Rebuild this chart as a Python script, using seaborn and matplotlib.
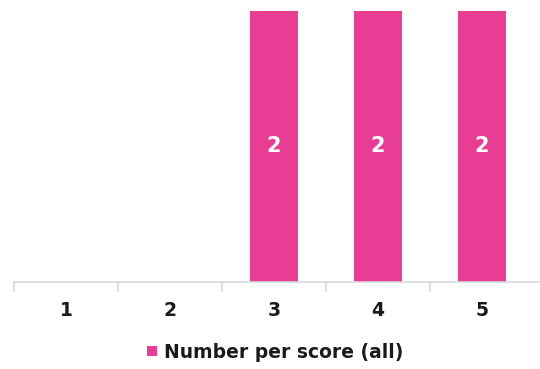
import matplotlib
matplotlib.use("Agg")
import matplotlib.pyplot as plt
import seaborn as sns
import pandas as pd
from matplotlib.patches import Patch

# Scores and how many responses landed on each
scores = ["1", "2", "3", "4", "5"]
counts = [0, 0, 2, 2, 2]
series_name = "Number per score (all)"

pink = "#E83D95"
text_color = "#1a1a1a"

sns.set_theme(style="white")
plt.rcParams["font.family"] = ["DejaVu Sans"]

df = pd.DataFrame({"score": scores, "count": counts})

W, H = 540, 369
fig = plt.figure(figsize=(W / 100, H / 100), dpi=100)
# axes spans from the left axis tick to past the right edge
left_px, right_px, base_px, top_px = 14, 540, 282, 11
ax = fig.add_axes([left_px / W, (H - base_px) / H,
                   (right_px - left_px) / W, (base_px - top_px) / H])

sns.barplot(data=df, x="score", y="count", color=pink, width=0.47,
            saturation=1, linewidth=0, edgecolor="none", ax=ax)

ax.set_ylim(0, 2)
ax.set_xlim(-0.5, 4.5 + 6 / 104)
ax.set_yticks([])
ax.set_xlabel("")
ax.set_ylabel("")
for side in ["top", "right", "left"]:
    ax.spines[side].set_visible(False)
ax.spines["bottom"].set_color("#d9d9d9")
ax.spines["bottom"].set_linewidth(1.2)

# category boundary ticks below the baseline
ax.set_xticks(range(len(scores)))
ax.set_xticklabels(scores, fontsize=13.5, fontweight="bold", color=text_color)
ax.tick_params(axis="x", which="major", length=0, pad=14)
ax.set_xticks([i - 0.5 for i in range(len(scores))], minor=True)
ax.tick_params(axis="x", which="minor", length=7, width=1.2,
               color="#d9d9d9", direction="out", bottom=True)

# value labels inside the bars
for container in ax.containers:
    labels = [f"{v:g}" if v > 0 else "" for v in container.datavalues]
    ax.bar_label(container, labels=labels, label_type="center",
                 color="white", fontsize=15, fontweight="bold")

handle = Patch(facecolor=pink, edgecolor="none")
fig.legend([handle], [series_name], loc="center", bbox_to_anchor=(0.51, (H - 352) / H),
           frameon=False, handlelength=0.5, handleheight=0.5, handletextpad=0.4,
           prop={"weight": "bold", "size": 13.5}, labelcolor=text_color)

fig.savefig("out.png", dpi=100, facecolor="white")
